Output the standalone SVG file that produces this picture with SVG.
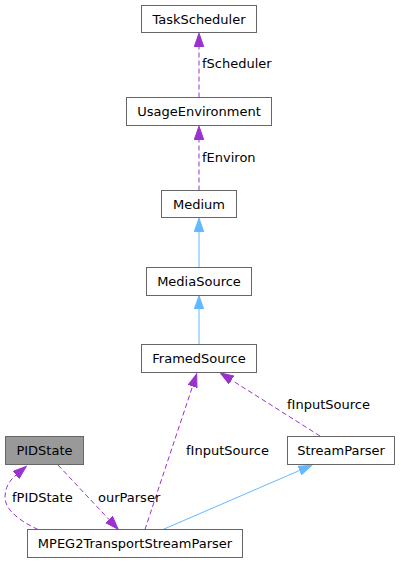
<svg xmlns="http://www.w3.org/2000/svg" width="401" height="563" viewBox="0 0 401 563">
<defs>
<style>
.node rect{fill:#ffffff;stroke:#666666;stroke-width:1}
.node.cur rect{fill:#999999}
.node text,.lbl{font-family:"DejaVu Sans","Liberation Sans",sans-serif;font-size:13px;fill:#000000}
.node text{text-anchor:middle}
.use{fill:none;stroke:#9a32cd;stroke-width:1;stroke-dasharray:5,3}
.inh{fill:none;stroke:#63b8ff;stroke-width:1}
</style>
<marker id="ap" markerUnits="userSpaceOnUse" markerWidth="16" markerHeight="12" refX="0" refY="5" orient="auto" viewBox="0 0 16 12">
<path d="M0,0.3 L13.3,5 L0,9.7 z" fill="#9a32cd" stroke="#9a32cd"/>
</marker>
<marker id="ab" markerUnits="userSpaceOnUse" markerWidth="16" markerHeight="12" refX="0" refY="5" orient="auto" viewBox="0 0 16 12">
<path d="M0,0.3 L13.3,5 L0,9.7 z" fill="#63b8ff" stroke="#63b8ff"/>
</marker>
</defs>
<rect width="401" height="563" fill="#ffffff"/>
<g id="edges">
<path class="use" d="M199,97.5 L199,46.5" marker-end="url(#ap)"/>
<text class="lbl" x="202" y="68">fScheduler</text>
<path class="use" d="M199,190.5 L199,139.5" marker-end="url(#ap)"/>
<text class="lbl" x="202" y="161.5">fEnviron</text>
<path class="inh" d="M199,267.5 L199,231.5" marker-end="url(#ab)"/>
<path class="inh" d="M199,344.5 L199,309" marker-end="url(#ab)"/>
<path class="use" d="M145,529.5 C158,490 180,424 192.5,386.5" marker-end="url(#ap)"/>
<text class="lbl" x="186" y="455">fInputSource</text>
<path class="use" d="M320,436 L231.5,380" marker-end="url(#ap)"/>
<text class="lbl" x="287" y="408.5">fInputSource</text>
<path class="inh" d="M163,529.5 L299.5,470.5" marker-end="url(#ab)"/>
<path class="use" d="M58,465 L109,519.5" marker-end="url(#ap)"/>
<text class="lbl" x="98" y="501.5">ourParser</text>
<path class="use" d="M38,529.5 C22,522 5,511 5,497 C5,487 10,480 16,475" marker-end="url(#ap)"/>
<text class="lbl" x="12" y="501.5">fPIDState</text>
</g>
<g id="TaskScheduler" class="node"><rect x="141.5" y="5.5" width="115" height="27"/><text x="199" y="23.5">TaskScheduler</text></g>
<g id="UsageEnvironment" class="node"><rect x="126.5" y="97.5" width="145" height="28"/><text x="199" y="116">UsageEnvironment</text></g>
<g id="Medium" class="node"><rect x="161.5" y="190.5" width="75" height="27"/><text x="199" y="208.5">Medium</text></g>
<g id="MediaSource" class="node"><rect x="146.5" y="267.5" width="105" height="28"/><text x="199" y="286">MediaSource</text></g>
<g id="FramedSource" class="node"><rect x="141.5" y="344.5" width="115" height="28"/><text x="199" y="363">FramedSource</text></g>
<g id="StreamParser" class="node"><rect x="287.5" y="436.5" width="107" height="28"/><text x="341" y="455">StreamParser</text></g>
<g id="PIDState" class="node cur"><rect x="5.5" y="436.5" width="78" height="28"/><text x="44.5" y="455">PIDState</text></g>
<g id="MPEG2TransportStreamParser" class="node"><rect x="27.5" y="529.5" width="215" height="28"/><text x="135" y="548">MPEG2TransportStreamParser</text></g>
</svg>
